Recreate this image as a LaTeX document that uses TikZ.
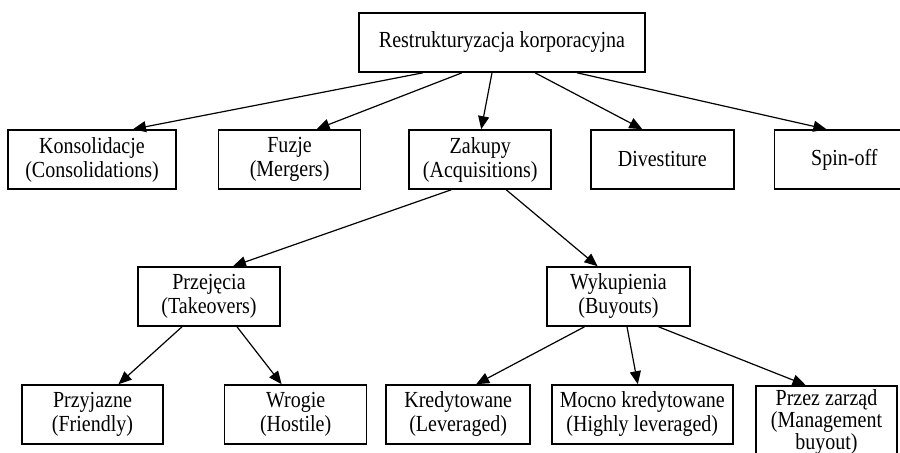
\documentclass[tikz,border=0pt]{standalone}
\usepackage{fontspec}
\setmainfont{Liberation Serif}[FakeStretch=0.87]
\usepackage{tikz}
\usetikzlibrary{arrows.meta,positioning}

\begin{document}
\begin{tikzpicture}[
    x=0.5pt, y=-0.5pt,
    box/.style={rectangle, draw, line width=0.8pt, minimum height=29.5pt, align=center, font=\fontsize{11.5}{12}\selectfont},
    arrow/.style={-{Triangle[length=6.5pt,width=5.5pt]}, line width=0.6pt}
]
    \clip (0,0) rectangle (900,453);

    % Root
    \node[box, minimum width=143pt] (restr) at (502,42.5) {Restrukturyzacja korporacyjna};

    % First level
    \node[box, minimum width=84pt] (konsol) at (92,159.5) {Konsolidacje\\(Consolidations)};
    \node[box, minimum width=71pt, right=20.5pt of konsol] (fuzje) {Fuzje\\(Mergers)};
    \node[box, minimum width=71pt, right=23.5pt of fuzje] (zakupy) {Zakupy\\(Acquisitions)};
    \node[box, minimum width=71.5pt, right=19pt of zakupy] (divest) {Divestiture};
    \node[box, minimum width=70pt, right=19.5pt of divest] (spinoff) {Spin-off};

    % Second level
    \node[box, minimum width=71pt] (przej) at (209,296.5) {Przejęcia\\(Takeovers)};
    \node[box, minimum width=71.5pt] (wykup) at (618.5,296.5) {Wykupienia\\(Buyouts)};

    % Third level
    \node[box, minimum width=70.5pt] (przyj) at (92.5,414.5) {Przyjazne\\(Friendly)};
    \node[box, minimum width=71pt, right=30pt of przyj] (wrogie) {Wrogie\\(Hostile)};
    \node[box, minimum width=72pt, right=9pt of wrogie] (kredyt) {Kredytowane\\(Leveraged)};
    \node[box, minimum width=90.5pt, right=10pt of kredyt] (mocno) {Mocno kredytowane\\(Highly leveraged)};
    \node[box, minimum width=70.5pt, anchor=north, inner ysep=2pt, font=\fontsize{11.5}{11}\selectfont] (zarzad) at (826.5,385) {Przez zarząd\\(Management\\buyout)};

    % Arrows from the root
    \draw[arrow] ([xshift=-39.5pt]restr.south) -- ([xshift=20.5pt]konsol.north);
    \draw[arrow] ([xshift=-20pt]restr.south) -- ([xshift=13.5pt]fuzje.north);
    \draw[arrow] ([xshift=-5pt]restr.south) -- ([xshift=0.5pt]zakupy.north);
    \draw[arrow] ([xshift=16.5pt]restr.south) -- ([xshift=-10pt]divest.north);
    \draw[arrow] ([xshift=37.5pt]restr.south) -- ([xshift=-9pt]spinoff.north);

    % Acquisitions split
    \draw[arrow] ([xshift=-14.5pt]zakupy.south) -- ([xshift=12pt]przej.north);
    \draw[arrow] ([xshift=13pt]zakupy.south) -- ([xshift=-10.5pt]wykup.north);

    % Takeovers and buyouts
    \draw[arrow] ([xshift=-13.5pt]przej.south) -- ([xshift=13pt]przyj.north);
    \draw[arrow] ([xshift=14pt]przej.south) -- ([xshift=-7pt]wrogie.north);
    \draw[arrow] ([xshift=-17pt]wykup.south) -- ([xshift=9pt]kredyt.north);
    \draw[arrow] ([xshift=4.25pt]wykup.south) -- ([xshift=-2.25pt]mocno.north);
    \draw[arrow] ([xshift=20pt]wykup.south) -- ([xshift=-10.5pt]zarzad.north);
\end{tikzpicture}
\end{document}
